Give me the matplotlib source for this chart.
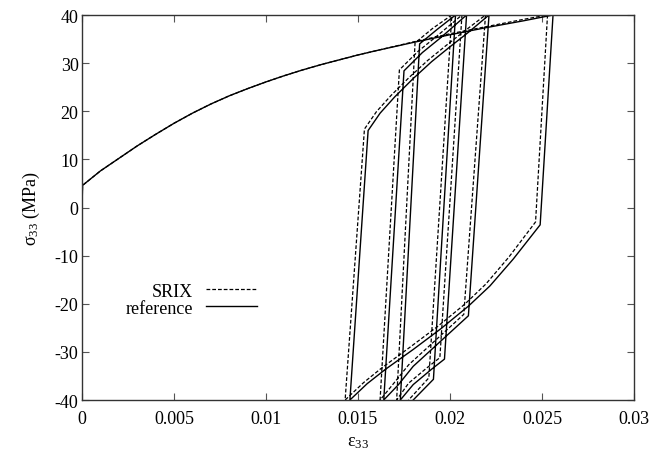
import numpy as np
import matplotlib
matplotlib.use("Agg")
import matplotlib.pyplot as plt

plt.rcParams['font.family'] = ['Liberation Serif', 'DejaVu Serif']
plt.rcParams['mathtext.fontset'] = 'custom'
plt.rcParams['mathtext.rm'] = 'Liberation Serif'
plt.rcParams['mathtext.it'] = 'Liberation Serif:italic'
plt.rcParams['axes.unicode_minus'] = False

# reference solution: monotonic loading, then stress cycling between -40 and 40 MPa
ref_strain = [0, 0.00003, 0.001, 0.002, 0.003, 0.004, 0.005, 0.006, 0.007, 0.008,
              0.009, 0.010, 0.011, 0.012, 0.013, 0.014, 0.015, 0.016, 0.018, 0.020,
              0.022, 0.024, 0.0256,
              0.0249, 0.02344, 0.02217, 0.0210, 0.0195, 0.0180, 0.0165, 0.0155, 0.01456,
              0.01555, 0.0162, 0.0170, 0.0180, 0.0190, 0.0200, 0.0210, 0.02212,
              0.0210, 0.0200, 0.0190, 0.0180, 0.0172, 0.0164,
              0.0175, 0.0185, 0.0195, 0.0209,
              0.0197, 0.0190, 0.0180, 0.0173,
              0.01835, 0.0193, 0.0203,
              0.0191, 0.0180]
ref_stress = [0, 4.6, 7.6, 10.2, 12.8, 15.2, 17.5, 19.6, 21.5, 23.2,
              24.7, 26.1, 27.4, 28.6, 29.7, 30.7, 31.7, 32.6, 34.3, 35.9,
              37.4, 38.8, 40.0,
              -3.6, -10.7, -16.3, -20.5, -25.2, -29.5, -33.6, -36.6, -40.0,
              16.0, 19.6, 23.0, 26.8, 30.3, 33.4, 36.4, 40.0,
              -22.5, -26.0, -29.5, -33.0, -36.8, -40.0,
              28.4, 32.2, 35.3, 40.0,
              -31.5, -33.6, -36.8, -40.0,
              34.0, 37.0, 40.0,
              -35.7, -40.0]

# SRIX solution
srix_strain = [0, 0.00003, 0.001, 0.002, 0.003, 0.004, 0.005, 0.006, 0.007, 0.008,
               0.009, 0.010, 0.011, 0.012, 0.013, 0.014, 0.015, 0.016, 0.018, 0.020,
               0.022, 0.024, 0.0253,
               0.02465, 0.0232, 0.02195, 0.0208, 0.0193, 0.0178, 0.0163, 0.0153, 0.0143,
               0.01535, 0.0160, 0.0168, 0.0178, 0.0188, 0.0198, 0.0208, 0.02193,
               0.02075, 0.01975, 0.01875, 0.01775, 0.01695, 0.0162,
               0.01725, 0.01825, 0.01925, 0.02065,
               0.01945, 0.01875, 0.01775, 0.0171,
               0.0181, 0.01905, 0.0201,
               0.01885, 0.01775]
srix_stress = [0, 4.6, 7.6, 10.2, 12.8, 15.2, 17.5, 19.6, 21.5, 23.2,
               24.7, 26.1, 27.4, 28.6, 29.7, 30.7, 31.7, 32.6, 34.4, 36.1,
               37.6, 39.1, 40.0,
               -3.0, -10.3, -15.9, -20.1, -24.8, -29.1, -33.3, -36.4, -40.0,
               16.3, 19.9, 23.3, 27.1, 30.6, 33.7, 36.7, 40.0,
               -22.2, -25.7, -29.2, -32.7, -36.5, -40.0,
               28.6, 32.4, 35.5, 40.0,
               -31.2, -33.3, -36.5, -40.0,
               34.2, 37.2, 40.0,
               -35.4, -40.0]

x_ticks = [0, 0.005, 0.01, 0.015, 0.02, 0.025, 0.03]
x_labels = ['0', '0.005', '0.01', '0.015', '0.02', '0.025', '0.03']
y_ticks = [-40, -30, -20, -10, 0, 10, 20, 30, 40]

fig = plt.figure(figsize=(6.54, 4.56), dpi=100)
ax = fig.add_axes([0.1254, 0.1206, 0.8440, 0.8443])

ax.plot(srix_strain, srix_stress, color='black', lw=0.9, dashes=(3, 1.6), label='SRIX')
ax.plot(ref_strain, ref_stress, color='black', lw=1.0, label='reference')

ax.set_xlim(0, 0.03)
ax.set_ylim(-40, 40)
ax.set_xticks(x_ticks)
ax.set_xticklabels(x_labels)
ax.set_yticks(y_ticks)
ax.tick_params(direction='in', length=5, width=0.8, top=True, right=True,
               labelsize=13, color='#555555')
ax.tick_params(axis='x', pad=7.5)
ax.tick_params(axis='y', pad=2.5)
for s in ax.spines.values():
    s.set_linewidth(1.0)
    s.set_color('#333333')

ax.set_xlabel(r'$\mathregular{ε_{33}}$', fontsize=13, labelpad=4)
ax.set_ylabel(r'$\mathregular{σ_{33}}$ (MPa)', fontsize=13, labelpad=9)

leg = ax.legend(loc='upper left', bbox_to_anchor=(0.062, 0.328), frameon=False,
                markerfirst=False, fontsize=13, handlelength=2.8,
                handletextpad=0.75, labelspacing=0.0, borderpad=0)

fig.savefig('out.png', dpi=100)
